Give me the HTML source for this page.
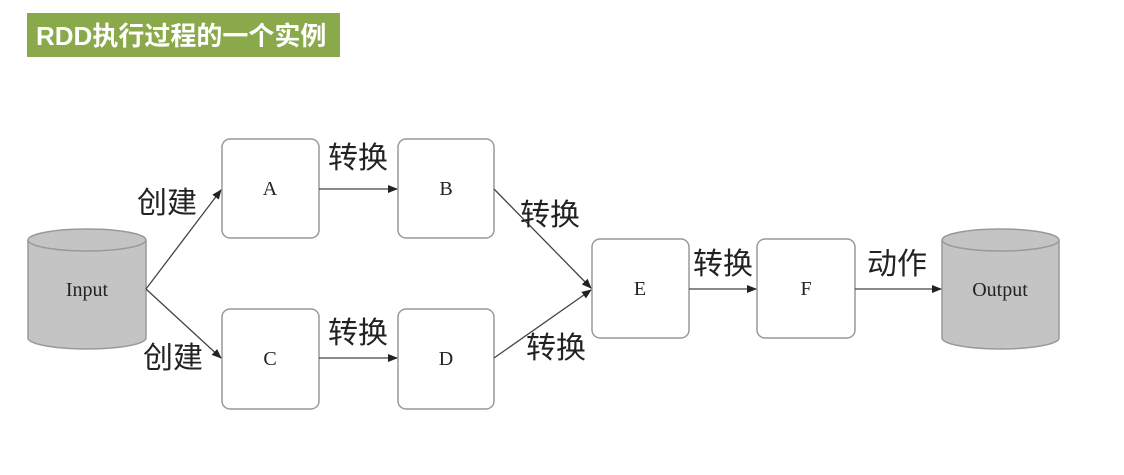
<!DOCTYPE html>
<html><head><meta charset="utf-8"><style>
html,body{margin:0;padding:0;background:#fff;width:1124px;height:475px;overflow:hidden}
svg{display:block}
</style></head><body>
<svg width="1124" height="475" viewBox="0 0 1124 475" xmlns="http://www.w3.org/2000/svg">
<defs><marker id="ar" markerWidth="10" markerHeight="8" refX="9" refY="4" orient="auto" markerUnits="userSpaceOnUse"><path d="M0,0 L10,4 L0,8 z" fill="#222"/></marker></defs>
<rect x="27" y="13" width="313" height="44" fill="#8aa94a"/>
<text x="36" y="45" font-family="Liberation Sans,'Noto Sans CJK SC',sans-serif" font-size="26" font-weight="bold" fill="#fff">RDD执行过程的一个实例</text>
<g fill="#c4c4c4" stroke="#999" stroke-width="1.5">
<path d="M28,240 L28,338 A59,11 0 0 0 146,338 L146,240"/>
<ellipse cx="87" cy="240" rx="59" ry="11"/>
<path d="M942,240 L942,338 A58.5,11 0 0 0 1059,338 L1059,240"/>
<ellipse cx="1000.5" cy="240" rx="58.5" ry="11"/>
</g>
<g fill="#fff" stroke="#999" stroke-width="1.5">
<rect x="222" y="139" width="97" height="99" rx="8"/>
<rect x="398" y="139" width="96" height="99" rx="8"/>
<rect x="222" y="309" width="97" height="100" rx="8"/>
<rect x="398" y="309" width="96" height="100" rx="8"/>
<rect x="592" y="239" width="97" height="99" rx="8"/>
<rect x="757" y="239" width="98" height="99" rx="8"/>
</g>
<g stroke="#444" stroke-width="1.3" fill="none" marker-end="url(#ar)">
<line x1="146" y1="289" x2="221" y2="190"/>
<line x1="146" y1="289" x2="221" y2="358"/>
<line x1="319" y1="189" x2="397" y2="189"/>
<line x1="319" y1="358" x2="397" y2="358"/>
<line x1="494" y1="189" x2="591" y2="288"/>
<line x1="494" y1="358" x2="591" y2="290"/>
<line x1="689" y1="289" x2="756" y2="289"/>
<line x1="855" y1="289" x2="941" y2="289"/>
</g>
<g font-family="Liberation Serif,'Noto Serif CJK SC',serif" font-size="20" fill="#222" text-anchor="middle">
<text x="87" y="296">Input</text>
<text x="1000" y="296">Output</text>
<text x="270" y="195">A</text>
<text x="446" y="195">B</text>
<text x="270" y="365">C</text>
<text x="446" y="365">D</text>
<text x="640" y="295">E</text>
<text x="806" y="295">F</text>
</g>
<g font-family="'Noto Sans CJK SC',sans-serif" font-size="30" fill="#222" text-anchor="middle">
<text x="167" y="213">创建</text>
<text x="173" y="368">创建</text>
<text x="358" y="168">转换</text>
<text x="358" y="343">转换</text>
<text x="550" y="225">转换</text>
<text x="556" y="358">转换</text>
<text x="723" y="274">转换</text>
<text x="897" y="274">动作</text>
</g>
</svg>
</body></html>
